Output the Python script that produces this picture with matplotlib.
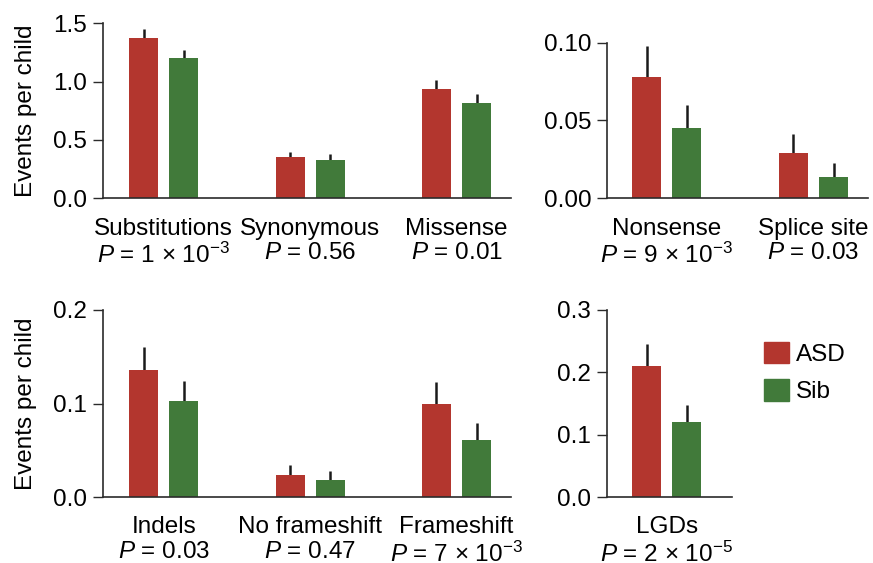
import numpy as np
import matplotlib
matplotlib.use("Agg")
import matplotlib.pyplot as plt
from matplotlib.patches import Patch

plt.rcParams['font.family'] = ['Liberation Sans', 'DejaVu Sans']
plt.rcParams['mathtext.fontset'] = 'custom'
plt.rcParams['mathtext.rm'] = 'Liberation Sans'
plt.rcParams['mathtext.it'] = 'Liberation Sans:italic'
plt.rcParams['font.size'] = 17.5

# Data
cat_tl = ['Substitutions', 'Synonymous', 'Missense']
p_tl = [r'$P$ = 1 × 10$^{-3}$', r'$P$ = 0.56', r'$P$ = 0.01']
asd_tl = [1.37, 0.35, 0.94]
asd_err_tl = [0.08, 0.043, 0.07]
sib_tl = [1.20, 0.33, 0.82]
sib_err_tl = [0.072, 0.046, 0.07]

cat_tr = ['Nonsense', 'Splice site']
p_tr = [r'$P$ = 9 × 10$^{-3}$', r'$P$ = 0.03']
asd_tr = [0.078, 0.029]
asd_err_tr = [0.020, 0.0125]
sib_tr = [0.045, 0.014]
sib_err_tr = [0.015, 0.0085]

cat_bl = ['Indels', 'No frameshift', 'Frameshift']
p_bl = [r'$P$ = 0.03', r'$P$ = 0.47', r'$P$ = 7 × 10$^{-3}$']
asd_bl = [0.136, 0.023, 0.100]
asd_err_bl = [0.024, 0.011, 0.023]
sib_bl = [0.103, 0.018, 0.061]
sib_err_bl = [0.021, 0.0095, 0.018]

cat_br = ['LGDs']
p_br = [r'$P$ = 2 × 10$^{-5}$']
asd_br = [0.210]
asd_err_br = [0.035]
sib_br = [0.121]
sib_err_br = [0.026]

red = '#b3362e'
green = '#417a3a'
dark = '#2b2b2b'

W, H = 873, 563
fig = plt.figure(figsize=(W / 100, H / 100), dpi=100)


def make_ax(px0, px1, py_top, py_bot):
    return fig.add_axes([px0 / W, 1 - py_bot / H, (px1 - px0) / W, (py_bot - py_top) / H])


def panel(ax, cats, pvals, asd, asd_err, sib, sib_err, yticks, fmt, xlim, ylabel=False):
    x = np.arange(len(cats))
    w = 0.198
    off = 0.137
    ax.bar(x - off, asd, w, color=red, zorder=2)
    ax.bar(x + off, sib, w, color=green, zorder=2)
    ax.errorbar(x - off, asd, yerr=[np.zeros(len(x)), asd_err], fmt='none',
                ecolor='#1a1a1a', elinewidth=1.8, capsize=0, zorder=1)
    ax.errorbar(x + off, sib, yerr=[np.zeros(len(x)), sib_err], fmt='none',
                ecolor='#1a1a1a', elinewidth=1.8, capsize=0, zorder=1)
    ax.set_xlim(*xlim)
    ax.set_ylim(0, yticks[-1])
    ax.set_yticks(yticks)
    ax.set_yticklabels([fmt.format(t) for t in yticks])
    ax.set_xticks(x)
    ax.set_xticklabels([c + '\n' + p for c, p in zip(cats, pvals)], linespacing=1.15)
    ax.tick_params(axis='x', length=0, pad=14)
    ax.tick_params(axis='y', length=7.5, width=1, color=dark, pad=4)
    for s in ['top', 'right']:
        ax.spines[s].set_visible(False)
    for s in ['left', 'bottom']:
        ax.spines[s].set_color(dark)
        ax.spines[s].set_linewidth(1.2)
    if ylabel:
        ax.set_ylabel('Events per child')
        ax.yaxis.set_label_coords(-0.163, 0.5)


ax1 = make_ax(103.3, 511, 23.3, 198.3)
panel(ax1, cat_tl, p_tl, asd_tl, asd_err_tl, sib_tl, sib_err_tl,
      [0, 0.5, 1.0, 1.5], '{:.1f}', (-0.413, 2.372), ylabel=True)

ax2 = make_ax(607.3, 868, 42.7, 198.3)
panel(ax2, cat_tr, p_tr, asd_tr, asd_err_tr, sib_tr, sib_err_tr,
      [0, 0.05, 0.10], '{:.2f}', (-0.405, 1.372))

ax3 = make_ax(103.3, 511, 310, 497)
panel(ax3, cat_bl, p_bl, asd_bl, asd_err_bl, sib_bl, sib_err_bl,
      [0, 0.1, 0.2], '{:.1f}', (-0.413, 2.372), ylabel=True)

ax4 = make_ax(607.3, 732.3, 310, 497)
panel(ax4, cat_br, p_br, asd_br, asd_err_br, sib_br, sib_err_br,
      [0, 0.1, 0.2, 0.3], '{:.1f}', (-0.405, 0.447))

handles = [Patch(color=red, label='ASD'), Patch(color=green, label='Sib')]
fig.legend(handles=handles, loc='upper left', bbox_to_anchor=(764.3 / W, 1 - 342 / H),
           frameon=False, borderpad=0, borderaxespad=0, handlelength=1.03,
           handleheight=0.98, handletextpad=0.28, labelspacing=0.55)

fig.savefig('out.png', dpi=100)
